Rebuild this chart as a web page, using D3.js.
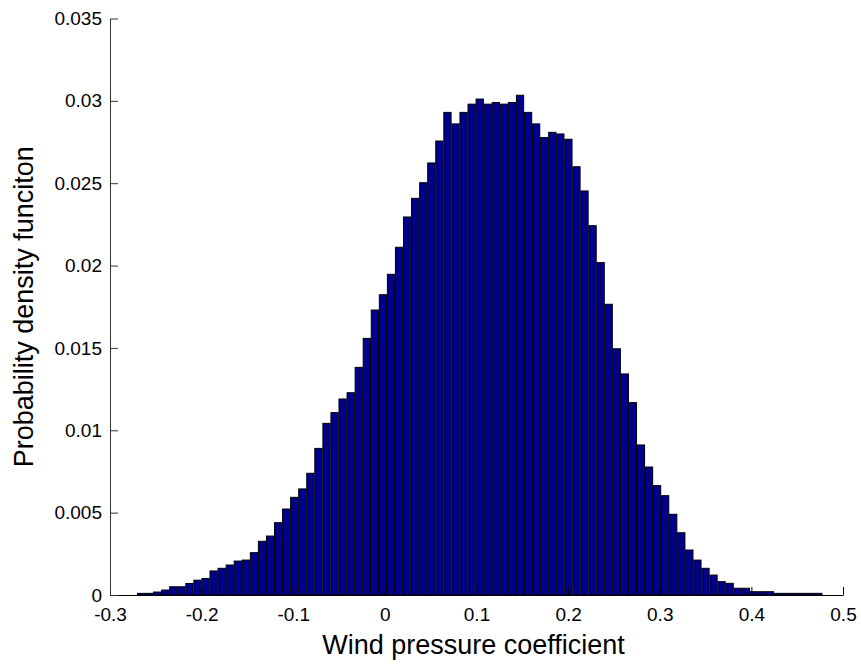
<!DOCTYPE html>
<html>
<head>
<meta charset="utf-8">
<script src="https://cdn.jsdelivr.net/npm/d3@7"></script>
<style>
  html, body { margin: 0; padding: 0; background: #fff; }
  svg { display: block; }
  text { font-family: "Liberation Sans", Arial, sans-serif; fill: #000; }
</style>
</head>
<body>
<svg id="chart" width="861" height="664"></svg>
<script>
// Histogram bins (left edge of the first bin and the bin width, in data units)
const binStart = -0.2705;
const binWidth = 0.0088;
// Probability density values per bin
const densities = [
  0.0001, 0.0001, 0.00018, 0.0003, 0.0005, 0.0005, 0.0007, 0.0009, 0.001, 0.00146,
  0.00162, 0.00182, 0.00206, 0.00212, 0.00257, 0.00326, 0.00358, 0.00439, 0.00522, 0.00593,
  0.00644, 0.00739, 0.0089, 0.01042, 0.01107, 0.0119, 0.01228, 0.01382, 0.01558, 0.0173,
  0.01823, 0.01947, 0.02111, 0.02295, 0.02408, 0.02503, 0.02623, 0.02756, 0.0293, 0.0286,
  0.0293, 0.0298, 0.03011, 0.0298, 0.0299, 0.0298, 0.0299, 0.03034, 0.0293, 0.0286,
  0.02777, 0.02809, 0.02799, 0.02767, 0.026, 0.02453, 0.02242, 0.02018, 0.01765, 0.01495,
  0.01342, 0.01168, 0.00911, 0.00777, 0.00664, 0.00603, 0.0049, 0.00378, 0.00273, 0.00212,
  0.00162, 0.00121, 0.00081, 0.00071, 0.00041, 0.00041, 0.0002, 0.0002, 0.0002, 0.0001,
  0.0001, 0.0001, 0.0001, 0.0001, 0.0001
];
const xTicks = [-0.3, -0.2, -0.1, 0, 0.1, 0.2, 0.3, 0.4, 0.5];
const xTickLabels = ["-0.3", "-0.2", "-0.1", "0", "0.1", "0.2", "0.3", "0.4", "0.5"];
const yTicks = [0, 0.005, 0.01, 0.015, 0.02, 0.025, 0.03, 0.035];
const yTickLabels = ["0", "0.005", "0.01", "0.015", "0.02", "0.025", "0.03", "0.035"];
const xLabel = "Wind pressure coefficient";
const yLabel = "Probability density funciton";

const svg = d3.select("#chart");
const plot = { left: 110, right: 843, top: 18.5, bottom: 595 };

const x = d3.scaleLinear().domain([-0.3, 0.5]).range([plot.left, plot.right]);
const y = d3.scaleLinear().domain([0, 0.035]).range([plot.bottom, plot.top]);

const bins = densities.map((v, i) => ({
  x0: binStart + i * binWidth,
  v
}));

// Bars
const barFrac = 0.9;
svg.append("g").selectAll("rect").data(bins).join("rect")
  .attr("x", d => x(d.x0 + binWidth * (1 - barFrac) / 2))
  .attr("width", d => x(d.x0 + binWidth * barFrac) - x(d.x0))
  .attr("y", d => y(d.v))
  .attr("height", d => y(0) - y(d.v))
  .attr("fill", "#00008f")
  .attr("stroke", "#000")
  .attr("stroke-width", 1);

const tickFont = "19px";

// X axis (ticks inward)
const xAxis = d3.axisBottom(x)
  .tickValues(xTicks)
  .tickFormat((d, i) => xTickLabels[i])
  .tickSizeInner(-8)
  .tickSizeOuter(0)
  .tickPadding(13);
const gx = svg.append("g").attr("transform", `translate(0,${plot.bottom})`).call(xAxis);
gx.select(".domain").attr("stroke", "#000");
gx.selectAll(".tick line").attr("stroke", "#000");
gx.selectAll(".tick text")
  .style("font-family", '"Liberation Sans", Arial, sans-serif')
  .style("font-size", tickFont)
  .attr("fill", "#000");

// Y axis (ticks inward)
const yAxis = d3.axisLeft(y)
  .tickValues(yTicks)
  .tickFormat((d, i) => yTickLabels[i])
  .tickSizeInner(-8)
  .tickSizeOuter(0)
  .tickPadding(8);
const gy = svg.append("g").attr("transform", `translate(${plot.left},0)`).call(yAxis);
gy.select(".domain").attr("stroke", "#333");
gy.selectAll(".tick line").attr("stroke", "#333");
gy.selectAll(".tick text")
  .style("font-family", '"Liberation Sans", Arial, sans-serif')
  .style("font-size", tickFont)
  .attr("fill", "#000");

// Axis labels
svg.append("text")
  .attr("x", (plot.left + plot.right) / 2 - 3)
  .attr("y", 654)
  .attr("text-anchor", "middle")
  .style("font-size", "27px")
  .text(xLabel);

svg.append("text")
  .attr("transform", `translate(33,${(plot.top + plot.bottom) / 2}) rotate(-90)`)
  .attr("text-anchor", "middle")
  .style("font-size", "27px")
  .text(yLabel);
</script>
</body>
</html>
